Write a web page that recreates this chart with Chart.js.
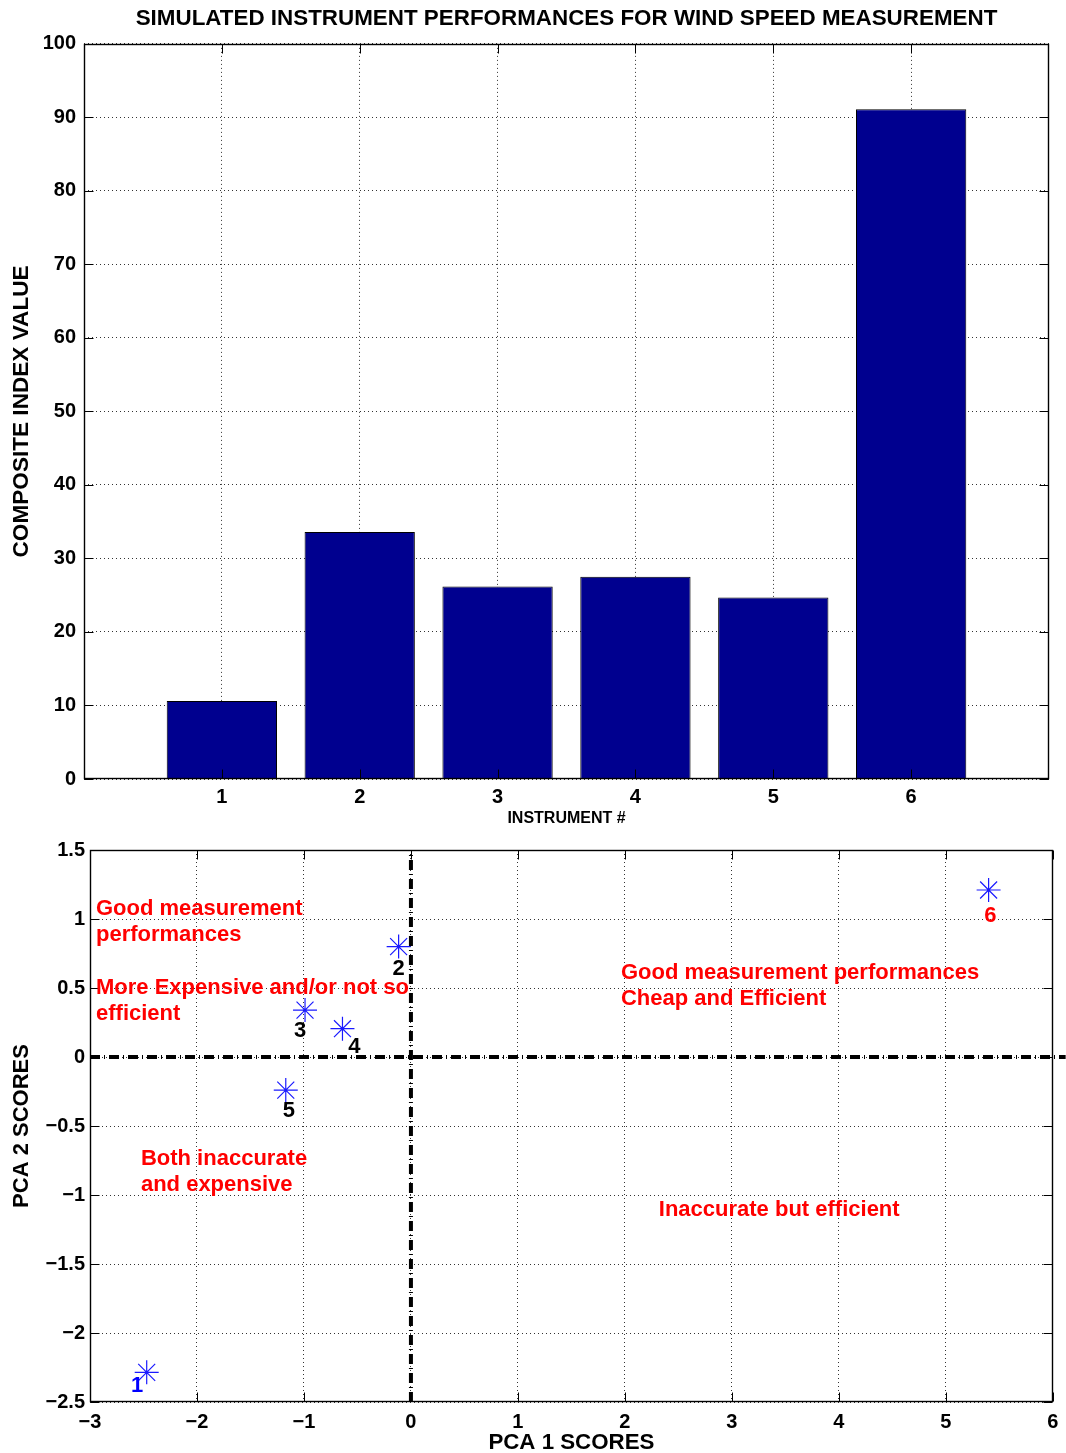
<!DOCTYPE html>
<html>
<head>
<meta charset="utf-8">
<title>Wind speed instruments</title>
<script src="https://cdn.jsdelivr.net/npm/chart.js@4/dist/chart.umd.min.js"></script>
<style>
  html, body { margin: 0; padding: 0; background: #fff; width: 1066px; height: 1453px; overflow: hidden; }
  canvas { position: absolute; left: 0; }
  #bars { top: 0; }
  #pca { top: 830px; }
</style>
</head>
<body>
<canvas id="bars" width="1066" height="830"></canvas>
<canvas id="pca" width="1066" height="623"></canvas>
<script>
// ---- data ----
const instruments = [1, 2, 3, 4, 5, 6];
const compositeIndex = [10.6, 33.6, 26.2, 27.5, 24.7, 91.1];

const pca1Scores = [-2.47, -0.115, -0.99, -0.64, -1.17, 5.40];
const pca2Scores = [-2.285, 0.80, 0.34, 0.205, -0.24, 1.21];
const pointLabels = ['1', '2', '3', '4', '5', '6'];
const pointLabelX = [-2.559, -0.115, -1.035, -0.528, -1.141, 5.417];
const pointLabelY = [-2.425, 0.594, 0.145, 0.029, -0.435, 0.980];
const pointLabelColors = ['#0000ff', '#000', '#000', '#000', '#000', '#ff0000'];

const quadrantText = [
  'Good measurement', 'performances',
  'More Expensive and/or not so', 'efficient',
  'Good measurement performances', 'Cheap and Efficient',
  'Both inaccurate', 'and expensive',
  'Inaccurate but efficient'
];
const quadrantTextX = [-2.944, -2.944, -2.944, -2.944, 1.963, 1.963, -2.524, -2.524, 2.317];
const quadrantTextY = [1.029, 0.841, 0.457, 0.268, 0.565, 0.377, -0.783, -0.971, -1.152];

const FONT = "'Liberation Sans', Arial, Helvetica, sans-serif";
Chart.defaults.color = '#000';
Chart.defaults.font.family = FONT;

const minus = s => String(s).replace('-', '\u2212');

// box round the plot area with inward tick marks on all four sides
const framePlugin = {
  id: 'frame',
  afterDatasetsDraw(chart) {
    const { ctx, chartArea: a, scales: { x, y } } = chart;
    const L = 9;
    const left = Math.round(a.left) + 0.5, right = Math.round(a.right) - 0.5;
    const top = Math.round(a.top) + 0.5, bottom = Math.round(a.bottom) - 0.5;
    ctx.save();
    ctx.strokeStyle = '#000';
    ctx.lineWidth = 1;
    ctx.beginPath();
    x.ticks.forEach(t => {
      const px = Math.round(x.getPixelForValue(t.value)) + 0.5;
      ctx.moveTo(px, bottom); ctx.lineTo(px, bottom - L);
      ctx.moveTo(px, top); ctx.lineTo(px, top + L);
    });
    y.ticks.forEach(t => {
      const py = Math.round(y.getPixelForValue(t.value)) + 0.5;
      ctx.moveTo(left, py); ctx.lineTo(left + L, py);
      ctx.moveTo(right, py); ctx.lineTo(right - L, py);
    });
    ctx.stroke();
    ctx.lineWidth = 1.4;
    ctx.strokeRect(left, top, right - left, bottom - top);
    ctx.restore();
  }
};

// text placed in data coordinates of the score plot
const textPlugin = {
  id: 'scoreText',
  afterDatasetsDraw(chart) {
    const { ctx, scales: { x, y } } = chart;
    ctx.save();
    ctx.font = "bold 22px " + FONT;
    ctx.textBaseline = 'alphabetic';
    ctx.fillStyle = '#ff0000';
    ctx.textAlign = 'left';
    quadrantText.forEach((s, i) => {
      ctx.fillText(s, x.getPixelForValue(quadrantTextX[i]), y.getPixelForValue(quadrantTextY[i]));
    });
    ctx.textAlign = 'center';
    pointLabels.forEach((s, i) => {
      ctx.fillStyle = pointLabelColors[i];
      ctx.fillText(s, x.getPixelForValue(pointLabelX[i]), y.getPixelForValue(pointLabelY[i]));
    });
    ctx.restore();
  }
};

const gridOpts = { color: '#333', lineWidth: 1, drawTicks: false, offset: false };
const borderOpts = { display: false, dash: [1, 3] };
const tickFont = { size: 20, weight: 'bold' };

// horizontal axes: fixed height, no extra side padding for end labels
const fitX = s => { s.height = 51; s.paddingLeft = 0; s.paddingRight = 0; };

// ---- composite index bar chart ----
new Chart(document.getElementById('bars'), {
  type: 'bar',
  data: {
    datasets: [{
      data: instruments.map((v, i) => ({ x: v, y: compositeIndex[i] })),
      backgroundColor: '#00008f',
      borderColor: '#000',
      borderWidth: 1,
      barPercentage: 0.8,
      categoryPercentage: 1.0
    }]
  },
  options: {
    responsive: false,
    devicePixelRatio: 1,
    animation: false,
    events: [],
    layout: { padding: { left: 0, right: 17, top: 0, bottom: 0 } },
    plugins: {
      legend: { display: false },
      tooltip: { enabled: false },
      title: {
        display: true,
        fullSize: false,
        text: 'SIMULATED INSTRUMENT PERFORMANCES FOR WIND SPEED MEASUREMENT',
        color: '#000',
        font: { size: 22.4, weight: 'bold', lineHeight: 1.2 },
        padding: { top: 5, bottom: 12 }
      }
    },
    scales: {
      x: {
        type: 'linear',
        min: 0, max: 7,
        offset: false,
        afterBuildTicks: s => { s.ticks = instruments.map(v => ({ value: v })); },
        afterFit: fitX,
        grid: gridOpts,
        border: borderOpts,
        ticks: { font: tickFont, padding: 6, maxRotation: 0 },
        title: {
          display: true, text: 'INSTRUMENT #',
          font: { size: 16, weight: 'bold', lineHeight: 1.2 },
          padding: { top: 2, bottom: 2 }
        }
      },
      y: {
        min: 0, max: 100,
        afterFit: s => { s.width = 84; },
        grid: gridOpts,
        border: borderOpts,
        ticks: { stepSize: 10, font: tickFont, padding: 8 },
        title: {
          display: true, text: 'COMPOSITE INDEX VALUE',
          font: { size: 22.6, weight: 'bold', lineHeight: 1.2 },
          padding: { top: 8, bottom: 8 }
        }
      }
    }
  },
  plugins: [framePlugin]
});

// ---- principal component scores ----
new Chart(document.getElementById('pca'), {
  type: 'scatter',
  data: {
    datasets: [
      {
        data: pca1Scores.map((v, i) => ({ x: v, y: pca2Scores[i] })),
        pointStyle: 'star',
        pointRadius: 12,
        borderColor: '#1a1aff',
        backgroundColor: '#1a1aff',
        borderWidth: 1.2,
        showLine: false
      },
      {
        type: 'line',
        data: [{ x: -3, y: 0 }, { x: 6.12, y: 0 }],
        borderColor: '#000',
        borderWidth: 4,
        borderDash: [10, 4, 1, 4],
        pointRadius: 0,
        clip: false
      },
      {
        type: 'line',
        data: [{ x: 0, y: -2.5 }, { x: 0, y: 1.5 }],
        borderColor: '#000',
        borderWidth: 4,
        borderDash: [10, 4, 1, 4],
        pointRadius: 0,
        clip: false
      }
    ]
  },
  options: {
    responsive: false,
    devicePixelRatio: 1,
    animation: false,
    events: [],
    layout: { padding: { left: 0, right: 10, top: 20, bottom: 0 } },
    plugins: { legend: { display: false }, tooltip: { enabled: false } },
    scales: {
      x: {
        type: 'linear',
        min: -3, max: 6,
        afterFit: fitX,
        grid: gridOpts,
        border: borderOpts,
        ticks: { stepSize: 1, font: tickFont, padding: 8, maxRotation: 0,
                 callback: v => minus(v) },
        title: {
          display: true, text: 'PCA 1 SCORES',
          font: { size: 22.3, weight: 'bold', lineHeight: 0.9 },
          padding: { top: 0, bottom: 0 }
        }
      },
      y: {
        min: -2.5, max: 1.5,
        afterFit: s => { s.width = 90; },
        grid: gridOpts,
        border: borderOpts,
        ticks: { stepSize: 0.5, font: tickFont, padding: 5,
                 callback: v => minus(Math.round(v * 10) / 10) },
        title: {
          display: true, text: 'PCA 2 SCORES',
          font: { size: 22, weight: 'bold', lineHeight: 1.2 },
          padding: { top: 9, bottom: 9 }
        }
      }
    }
  },
  plugins: [framePlugin, textPlugin]
});
</script>
</body>
</html>
